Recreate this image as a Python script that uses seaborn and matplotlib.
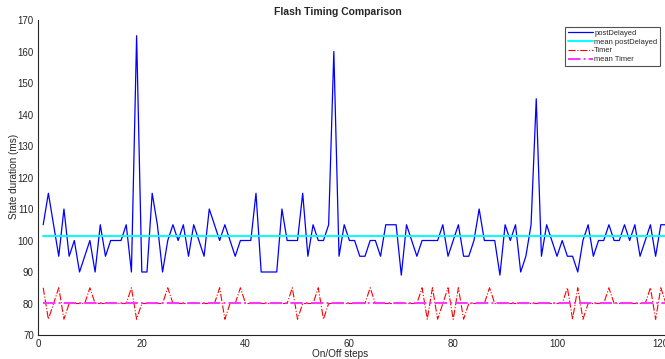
import numpy as np
import pandas as pd
import matplotlib
matplotlib.use("Agg")
import matplotlib.pyplot as plt
import seaborn as sns

# Measured state durations (ms) for each on/off step
steps = list(range(1, 122))
post_delayed = [
    105, 115, 105, 95, 110, 95, 100, 90, 95, 100,
    90, 105, 95, 100, 100, 100, 105, 90, 165, 90,
    90, 115, 105, 90, 100, 105, 100, 105, 95, 105,
    100, 95, 110, 105, 100, 105, 100, 95, 100, 100,
    100, 115, 90, 90, 90, 90, 110, 100, 100, 100,
    115, 95, 105, 100, 100, 105, 160, 95, 105, 100,
    100, 95, 95, 100, 100, 95, 105, 105, 105, 89,
    105, 100, 95, 100, 100, 100, 100, 105, 95, 100,
    105, 95, 95, 100, 110, 100, 100, 100, 89, 105,
    100, 105, 90, 95, 105, 145, 95, 105, 100, 95,
    100, 95, 95, 90, 100, 105, 95, 100, 100, 105,
    100, 100, 105, 100, 105, 95, 100, 105, 95, 105,
    105,
]
timer = [
    85, 75, 80, 85, 75, 80, 80, 80, 80, 85,
    80, 80, 80, 80, 80, 80, 80, 85, 75, 80,
    80, 80, 80, 80, 85, 80, 80, 80, 80, 80,
    80, 80, 80, 80, 85, 75, 80, 80, 85, 80,
    80, 80, 80, 80, 80, 80, 80, 80, 85, 75,
    80, 80, 80, 85, 75, 80, 80, 80, 80, 80,
    80, 80, 80, 85, 80, 80, 80, 80, 80, 80,
    80, 80, 80, 85, 75, 85, 75, 80, 85, 75,
    85, 75, 80, 80, 80, 80, 85, 80, 80, 80,
    80, 80, 80, 80, 80, 80, 80, 80, 80, 80,
    80, 85, 75, 85, 75, 80, 80, 80, 80, 85,
    80, 80, 80, 80, 80, 80, 80, 85, 75, 85,
    80,
]
y_ticks = list(range(70, 171, 10))
x_ticks = list(range(0, 121, 20))

df = pd.DataFrame({"step": steps, "postDelayed": post_delayed, "Timer": timer})
df["mean postDelayed"] = df["postDelayed"].mean()
df["mean Timer"] = df["Timer"].mean()

sns.set_theme(style="white")
plt.rcParams["font.family"] = ["Liberation Sans", "DejaVu Sans"]
text_color = "#262626"

fig = plt.figure(figsize=(6.65, 3.59), dpi=100)
W, H = 665, 359
ax_left, ax_right, ax_top, ax_bottom = 38, 666, 20, 335
ax = fig.add_axes([ax_left / W, 1 - ax_bottom / H,
                   (ax_right - ax_left) / W, (ax_bottom - ax_top) / H])

series = [
    ("postDelayed", "#0000ff", "-", 0.9),
    ("mean postDelayed", "#00ffff", "-", 1.4),
    ("Timer", "#ff0000", "-.", 0.8),
    ("mean Timer", "#ff33ff", "-.", 1.4),
]
for name, color, ls, lw in series:
    sns.lineplot(data=df, x="step", y=name, ax=ax, color=color,
                 linestyle=ls, linewidth=lw, label=name, estimator=None)

ax.set_xlim(0, 121)
ax.set_ylim(70, 170)
ax.set_xticks(x_ticks)
ax.set_yticks(y_ticks)
ax.tick_params(direction="in", length=4, width=0.8, colors=text_color,
               labelsize=7, pad=3)
for side in ("top", "right"):
    ax.spines[side].set_visible(False)
for side in ("left", "bottom"):
    ax.spines[side].set_color(text_color)
    ax.spines[side].set_linewidth(0.8)

ax.set_xlabel("")
ax.set_ylabel("")
fig.text(340 / W, 1 - 354 / H, "On/Off steps", ha="center", va="center",
         fontsize=7.2, color=text_color)
fig.text(14 / W, 1 - 176 / H, "State duration (ms)", ha="center", va="center",
         rotation=90, fontsize=7.2, color=text_color)
fig.text(338 / W, 1 - 12 / H, "Flash Timing Comparison", ha="center",
         va="center", fontsize=7.5, fontweight="bold", color=text_color)

leg = ax.legend(loc="upper right", bbox_to_anchor=(660 / W, 1 - 27 / H),
                bbox_transform=fig.transFigure, fontsize=5.4, frameon=True,
                fancybox=False, borderpad=0.35, labelspacing=0.2,
                handlelength=3.3, handletextpad=0.2, borderaxespad=0)
leg.get_frame().set_edgecolor(text_color)
leg.get_frame().set_linewidth(0.8)
for t in leg.get_texts():
    t.set_color(text_color)

fig.savefig("out.png", dpi=100)
